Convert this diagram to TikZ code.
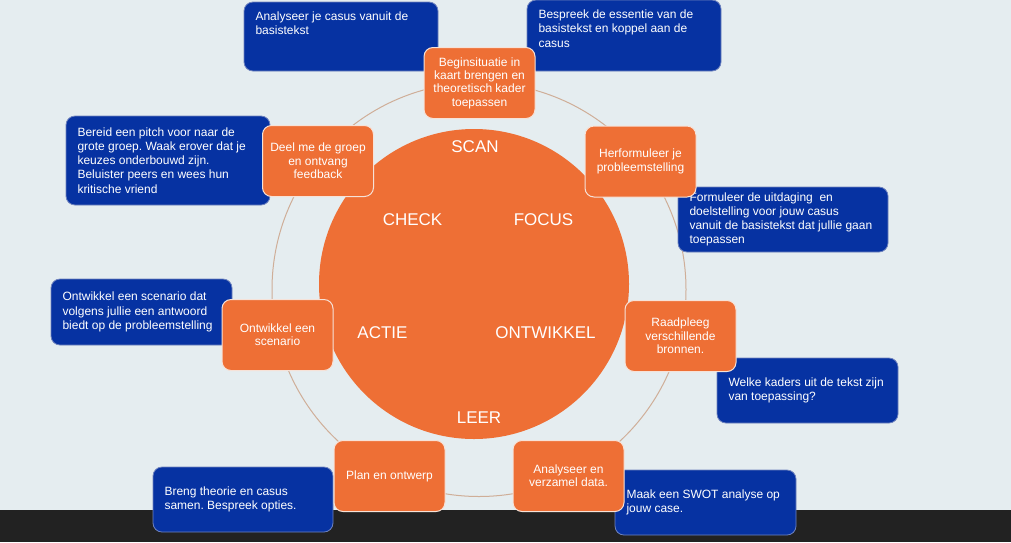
\documentclass[tikz,border=0pt]{standalone}
\usepackage{fontspec}
\setmainfont{Liberation Sans}
\frenchspacing
\definecolor{achtergrond}{HTML}{E5EDF0}
\definecolor{balk}{HTML}{222222}
\definecolor{oranje}{HTML}{EE6F35}
\definecolor{oranjerand}{HTML}{F6E2D8}
\definecolor{donkerblauw}{HTML}{0632A2}
\definecolor{blauwrand}{HTML}{6F83BE}
\definecolor{ringlijn}{HTML}{CFAE98}
\newcommand{\stapbox}[3]{%
  \node[draw=oranjerand, line width=1pt, rounded corners=9pt, fill=oranje,
        minimum width=111pt, minimum height=71pt, align=center, inner sep=2pt,
        text=white, font=\fontsize{12}{13.3}\selectfont] (#1) at (#2) {#3};}
\newcommand{\taakbox}[6][c]{%
  \node[draw=blauwrand, line width=0.8pt, rounded corners=9pt, fill=donkerblauw,
        inner xsep=11.5pt, inner ysep=10pt, text=white,
        font=\fontsize{12}{14.2}\selectfont] (#2) at (#3)
        {\parbox[c][#5][#1]{#4}{\raggedright #6}};}

\begin{document}
\begin{tikzpicture}[x=1pt, y=-1pt,
    fase/.style={text=white, font=\fontsize{17}{20}\selectfont, inner sep=0pt}]
      \useasboundingbox (0,0) rectangle (1011,542);
      \fill[achtergrond] (0,0) rectangle (1011,510);
      \fill[balk] (0,510) rectangle (1011,542);
      % cyclus
      \draw[ringlijn, line width=1pt] (479,289.5) circle[radius=207pt];
      \node[circle, fill=oranje, minimum size=310pt, inner sep=0pt] (kern) at (474,284) {};
      \node[fase] (scan) at (475,146.5) {SCAN};
      \node[fase] (check) at (412.5,219.5) {CHECK};
      \node[fase] (focus) at (543.5,219.5) {FOCUS};
      \node[fase] (actie) at (382.5,332.5) {ACTIE};
      \node[fase] (ontwikkel) at (545.5,332.5) {ONTWIKKEL};
      \node[fase] (leer) at (479,417.5) {LEER};
      % opdrachten
      \taakbox[t]{casus}{341,36.5}{171pt}{49pt}{Analyseer je casus vanuit de\\basistekst}
      \taakbox[t]{essentie}{624,35.5}{171pt}{51pt}{Bespreek de essentie van de\\basistekst en koppel aan de\\casus}
      \taakbox{pitch}{168,160.5}{181pt}{69pt}{Bereid een pitch voor naar de\\grote groep. Waak erover dat je\\keuzes onderbouwd zijn.\\Beluister peers en wees hun\\kritische vriend}
      \taakbox{uitdaging}{783,219.5}{187pt}{45pt}{Formuleer de uitdaging\ \ en\\doelstelling voor jouw casus\\vanuit de basistekst dat jullie gaan\\toepassen}
      \taakbox{antwoord}{141.5,312}{158pt}{46pt}{Ontwikkel een scenario dat\\volgens jullie een antwoord\\biedt op de probleemstelling}
      \taakbox{kaders}{807.5,390.5}{158pt}{45pt}{Welke kaders uit de tekst zijn\\van toepassing?}
      \taakbox{opties}{243,499.5}{157pt}{45pt}{Breng theorie en casus\\samen. Bespreek opties.}
      \taakbox{swot}{705.5,502.5}{158pt}{45pt}{Maak een SWOT analyse op\\jouw case.}
      % stappen
      \stapbox{begin}{479.5,83}{Beginsituatie in\\kaart brengen en\\theoretisch kader\\toepassen}
      \stapbox{herformuleer}{640.5,161.5}{Herformuleer je\\probleemstelling}
      \stapbox{raadpleeg}{680.5,336}{Raadpleeg\\verschillende\\bronnen.}
      \stapbox{analyseer}{568.5,476}{Analyseer en\\verzamel data.}
      \stapbox{plan}{389.5,476}{Plan en ontwerp}
      \stapbox{scenario}{277.5,335}{Ontwikkel een\\scenario}
      \stapbox{deel}{318,161}{Deel me de groep\\en ontvang\\feedback}
    \end{tikzpicture}
\end{document}
